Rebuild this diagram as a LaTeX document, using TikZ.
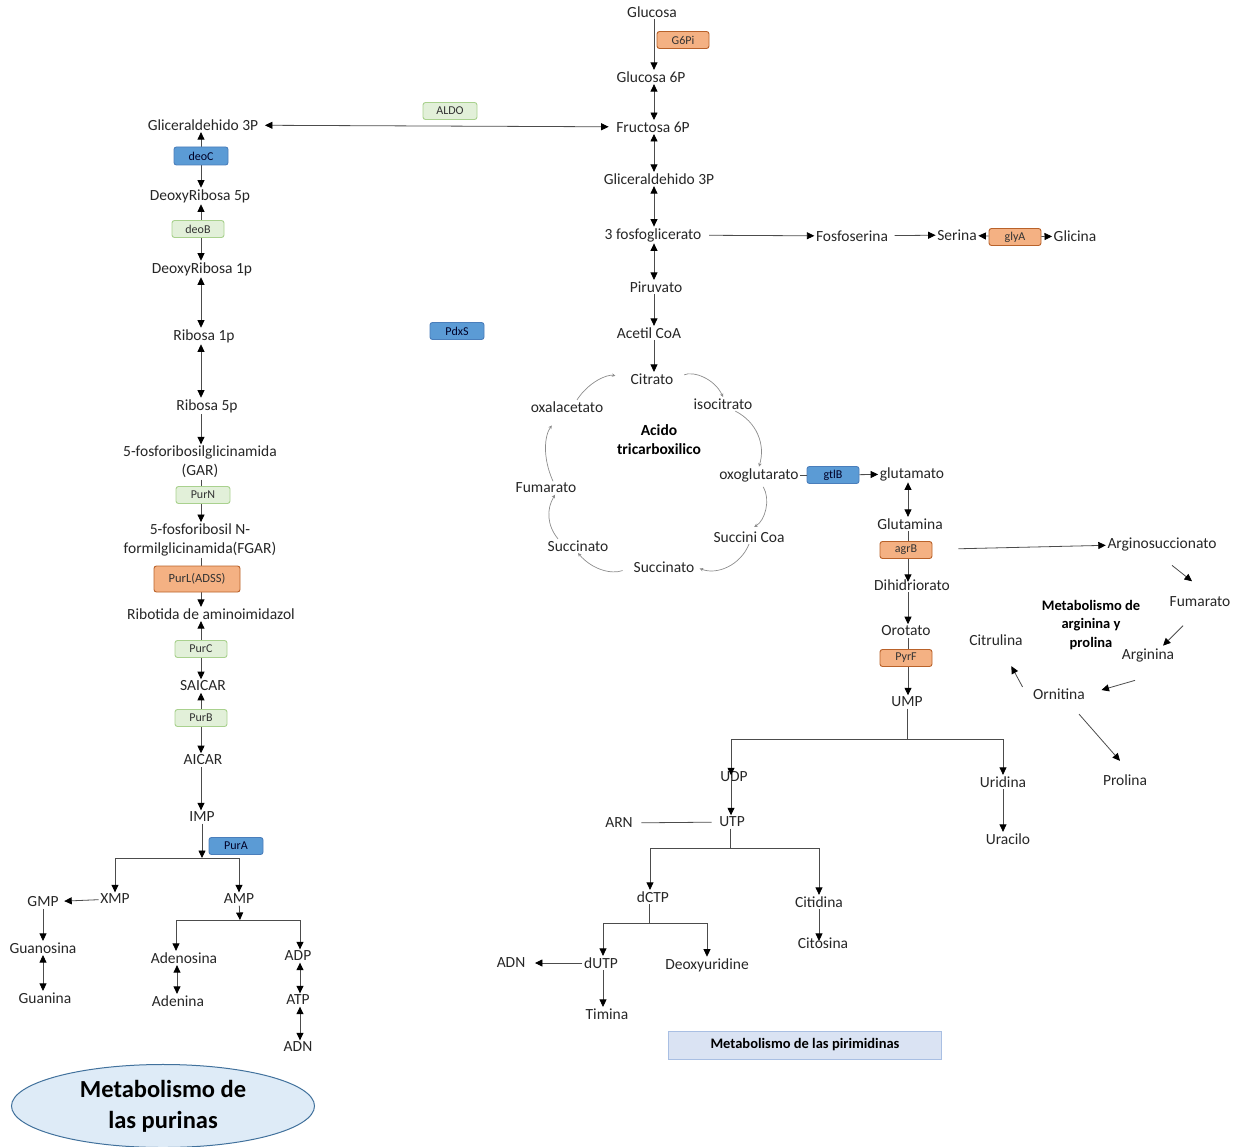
\documentclass[tikz,border=0pt]{standalone}
\usepackage{fontspec}
\setmainfont{Carlito}
\usetikzlibrary{arrows.meta}
\usetikzlibrary{shapes.geometric}

\definecolor{enzOrange}{HTML}{F4B183}
\definecolor{enzOrangeLine}{HTML}{B9622A}
\definecolor{enzGreen}{HTML}{E2F0D9}
\definecolor{enzGreenLine}{HTML}{A9D18E}
\definecolor{enzBlue}{HTML}{5B9BD5}
\definecolor{enzBlueLine}{HTML}{4A7EBB}
\definecolor{titleBlue}{HTML}{DEEBF7}
\definecolor{titleLine}{HTML}{41719C}
\definecolor{boxBlue}{HTML}{DAE3F3}
\definecolor{boxLine}{HTML}{A9BFE3}

\begin{document}
\begin{tikzpicture}[x=1pt,y=-1pt,
  >={Triangle[length=7.5pt,width=7pt,color=black]},
  met/.style={font=\fontsize{15.5}{19}\selectfont,text=black!85,inner sep=1.5pt,align=center},
  enz/.style={draw,rounded corners=2.5pt,minimum width=52pt,minimum height=17pt,inner sep=0pt,font=\fontsize{12}{14}\selectfont,text=black!80,line width=0.9pt},
  enzor/.style={enz,fill=enzOrange,draw=enzOrangeLine},
  enzgr/.style={enz,fill=enzGreen,draw=enzGreenLine},
  enzbl/.style={enz,fill=enzBlue,draw=enzBlueLine,text=black!85!blue},
  ln/.style={line width=0.8pt,draw=black!70},
  arr/.style={ln,->},
  dbl/.style={ln,<->},
  cyc/.style={->,line width=0.7pt,draw=black!45,>={Stealth[length=3.5pt,width=3.5pt]}}]

  \useasboundingbox (0,0) rectangle (1247,1147);

  \coordinate (colG) at (654,0);
  \coordinate (colL) at (201,0);
  \coordinate (colP) at (908,0);
  \coordinate (colU) at (731,0);

  \node[met] (glucosa) at (652,12) {Glucosa};
  \node[met] (gluc6p) at (651,77) {Glucosa 6P};
  \node[met] (fru6p) at (653,127) {Fructosa 6P};
  \node[met] (gliR) at (659,179) {Gliceraldehido 3P};
  \node[met] (fosfoglic) at (653,235) {3 fosfoglicerato};
  \node[met] (fosfoserina) at (852,236) {Fosfoserina};
  \node[met] (serina) at (957,235) {Serina};
  \node[met] (glicina) at (1075,236) {Glicina};
  \node[met] (piruvato) at (656,287) {Piruvato};
  \node[met] (acetil) at (649,333) {Acetil CoA};

  \node[met] (citrato) at (652,379) {Citrato};
  \node[met] (isocitrato) at (723,404) {isocitrato};
  \node[met] (oxoglut) at (759,475) {oxoglutarato};
  \node[met] (succinicoa) at (749,537) {Succini Coa};
  \node[met] (succinatoB) at (664,567) {Succinato};
  \node[met] (succinatoL) at (578,546) {Succinato};
  \node[met] (fumaratoL) at (546,488) {Fumarato};
  \node[met] (oxalacetato) at (567,407) {oxalacetato};
  \node[font=\bfseries\fontsize{15.5}{19}\selectfont,align=center] (acido) at (659,440) {Acido\\tricarboxilico};

  \node[met] (glutamato) at (912,474) {glutamato};
  \node[met] (glutamina) at (910,524) {Glutamina};
  \node[met] (dihidro) at (912,585) {Dihidriorato};
  \node[met] (orotato) at (906,631) {Orotato};
  \node[met] (ump) at (907,702) {UMP};

  \node[met] (argsucc) at (1162,544) {Arginosuccionato};
  \node[met] (fumaratoR) at (1200,602) {Fumarato};
  \node[met] (arginina) at (1148,655) {Arginina};
  \node[met] (ornitina) at (1059,694) {Ornitina};
  \node[met] (citrulina) at (996,640) {Citrulina};
  \node[met] (prolina) at (1125,780) {Prolina};
  \node[font=\bfseries\fontsize{14.5}{18.5}\selectfont,align=center] (argtitle) at (1091,625) {Metabolismo de\\arginina y\\prolina};

  \node[met] (udp) at (734,777) {UDP};
  \node[met] (utp) at (732,822) {UTP};
  \node[met] (arn) at (619,823) {ARN};
  \node[met] (uridina) at (1003,782) {Uridina};
  \node[met] (uracilo) at (1008,839) {Uracilo};
  \node[met] (dctp) at (653,897) {dCTP};
  \node[met] (citidina) at (819,902) {Citidina};
  \node[met] (citosina) at (823,943) {Citosina};
  \node[met] (dutp) at (601,963) {dUTP};
  \node[met] (deoxyur) at (707,965) {Deoxyuridine};
  \node[met] (adnP) at (511,963) {ADN};
  \node[met] (timina) at (607,1014) {Timina};

  \node[met] (gliL) at (203,125) {Gliceraldehido 3P};
  \node[met] (dr5p) at (200,196) {DeoxyRibosa 5p};
  \node[met] (dr1p) at (202,269) {DeoxyRibosa 1p};
  \node[met] (rib1p) at (204,336) {Ribosa 1p};
  \node[met] (rib5p) at (207,406) {Ribosa 5p};
  \node[met] (gar) at (200,462) {5-fosforibosilglicinamida\\(GAR)};
  \node[met] (fgar) at (200,540) {5-fosforibosil N-\\formilglicinamida(FGAR)};
  \node[met] (ribotida) at (211,614) {Ribotida de aminoimidazol};
  \node[met] (saicar) at (203,686) {SAICAR};
  \node[met] (aicar) at (203,760) {AICAR};
  \node[met] (imp) at (202,817) {IMP};
  \node[met] (xmp) at (115,899) {XMP};
  \node[met] (amp) at (239,899) {AMP};
  \node[met] (gmp) at (43,902) {GMP};
  \node[met] (guanosina) at (43,948) {Guanosina};
  \node[met] (guanina) at (45,998) {Guanina};
  \node[met] (adenosina) at (184,958) {Adenosina};
  \node[met] (adenina) at (178,1001) {Adenina};
  \node[met] (adp) at (298,956) {ADP};
  \node[met] (atp) at (298,1000) {ATP};
  \node[met] (adnL) at (298,1047) {ADN};

  \draw[arr] (colG |- glucosa.south) -- (colG |- gluc6p.north);
  \draw[dbl] (colG |- gluc6p.south) -- (colG |- fru6p.north);
  \draw[dbl] (colG |- fru6p.south) -- (colG |- gliR.north);
  \draw[dbl] (colG |- gliR.south) -- (colG |- fosfoglic.north);
  \draw[dbl] (colG |- fosfoglic.south) -- (colG |- piruvato.north);
  \draw[arr] (colG |- piruvato.south) -- (colG |- acetil.north);
  \draw[arr] (colG |- acetil.south) -- (colG |- citrato.north);
  \draw[arr,shorten <=6pt] (fosfoglic) -- (fosfoserina);
  \draw[arr,shorten <=5pt] (fosfoserina) -- (serina);
  \draw[dbl,shorten <=5pt,shorten >=6pt] (gliL) -- (fru6p);

  \draw[cyc,shorten <=10pt] (citrato.east) to[bend left=45] (isocitrato.north);
  \draw[cyc] (isocitrato.-30) to[bend left=40] (oxoglut.north);
  \draw[cyc,shorten <=4pt,shorten >=6pt] (oxoglut.-75) to[bend left=45] (succinicoa.north);
  \draw[cyc,shorten >=4pt] (succinicoa.south) to[bend left=45] (succinatoB.east);
  \draw[cyc,shorten <=10pt] (succinatoB.west) to[bend left=35] (succinatoL.south);
  \draw[cyc] ([xshift=-20pt]succinatoL.north) to[bend left=35] ([xshift=9pt]fumaratoL.south);
  \draw[cyc,shorten >=14pt] ([xshift=7pt]fumaratoL.north) to[bend left=30] ([xshift=-7pt]oxalacetato.south);
  \draw[cyc,shorten >=14pt] ([xshift=10pt]oxalacetato.north) to[bend left=35] (citrato.west);

  \draw[dbl] (colP |- glutamato.south) -- (colP |- glutamina.north);
  \draw[arr,shorten >=-4pt] (colP |- glutamina.south) -- (colP |- dihidro.north);
  \draw[arr] (colP |- dihidro.south) -- (colP |- orotato.north);
  \draw[arr] (colP |- orotato.south) -- (colP |- ump.north);

  \coordinate (umpsplit) at (907,739);
  \draw[ln] (ump) -- (umpsplit);
  \draw[arr,shorten >=-5pt] (umpsplit) -| (colU |- udp.north);
  \draw[arr] (umpsplit) -| (uridina);
  \draw[arr,shorten <=-6pt] (colU |- udp.south) -- (colU |- utp.north);
  \draw[ln,shorten <=7pt,shorten >=6pt] (arn) -- (utp);
  \draw[arr] (uridina) -- (uridina |- uracilo.north);
  \coordinate (utpsplit) at (730,848);
  \draw[ln] (utpsplit |- utp.south) -- (utpsplit);
  \draw[arr] (utpsplit) -| ([xshift=-3pt]dctp.north);
  \draw[arr] (utpsplit) -| (citidina);
  \draw[arr,shorten >=-5pt] (citidina) -- (citidina |- citosina.north);
  \coordinate (dctpsplit) at (649,923);
  \draw[ln] (dctpsplit |- dctp.south) -- (dctpsplit);
  \draw[arr] (dctpsplit) -| ([xshift=2pt]dutp.north);
  \draw[arr] (dctpsplit) -| (deoxyur);
  \draw[arr,shorten >=8pt] (dutp) -- (adnP);
  \draw[arr] ([xshift=2pt]dutp.south) -- ([xshift=2pt]dutp.south |- timina.north);

  \draw[arr] ([xshift=10pt,yshift=-13pt]argsucc.south) -- ([xshift=-8pt,yshift=14pt]fumaratoR.north);
  \draw[arr] ([xshift=-17pt,yshift=-17pt]fumaratoR.south) -- ([xshift=15pt,yshift=1pt]arginina.north);
  \draw[arr] ([xshift=-13pt,yshift=-17pt]arginina.south) -- ([xshift=15pt,yshift=4pt]ornitina.east);
  \draw[arr] ([xshift=-9pt]ornitina.north west) -- ([xshift=-13pt,yshift=-19pt]citrulina.south east);
  \draw[arr] ([xshift=20pt,yshift=-13pt]ornitina.south) -- ([xshift=-5pt,yshift=12pt]prolina.north);

  \draw[dbl] (colL |- gliL.south) -- (colL |- dr5p.north);
  \draw[dbl] (colL |- dr5p.south) -- (colL |- dr1p.north);
  \draw[dbl] (colL |- dr1p.south) -- (colL |- rib1p.north);
  \draw[dbl] (colL |- rib1p.south) -- (colL |- rib5p.north);
  \draw[arr] (colL |- rib5p.south) -- (colL |- gar.north);
  \draw[arr] (colL |- gar.south) -- (colL |- fgar.north);
  \draw[arr] (colL |- fgar.south) -- (colL |- ribotida.north);
  \draw[dbl] (colL |- ribotida.south) -- (colL |- saicar.north);
  \draw[dbl] (colL |- saicar.south) -- (colL |- aicar.north);
  \draw[arr] (colL |- aicar.south) -- (colL |- imp.north);
  \coordinate (impsplit) at (202,858);
  \draw[arr] (imp) -- (impsplit);
  \draw[arr] (impsplit) -| (xmp);
  \draw[arr] (impsplit) -| (amp);
  \draw[arr,shorten >=4pt] (xmp) -- (gmp);
  \draw[arr] (gmp) -- (guanosina);
  \draw[dbl] (guanosina) -- (guanosina |- guanina.north);
  \coordinate (ampsplit) at (240,920);
  \draw[arr] (amp) -- (ampsplit);
  \draw[arr] (ampsplit) -| ([xshift=-8pt]adenosina.north);
  \draw[arr] (ampsplit) -| ([xshift=2pt]adp.north);
  \draw[dbl] ([xshift=-7pt]adenosina.south) -- ([xshift=-7pt]adenosina.south |- adenina.north);
  \draw[dbl] ([xshift=2pt]adp.south) -- ([xshift=2pt]adp.south |- atp.north);
  \draw[dbl] ([xshift=2pt]atp.south) -- ([xshift=2pt]atp.south |- adnL.north);

  \node[enzor] (g6pi) at (683,40) {G6Pi};
  \node[enzgr,minimum width=54pt] (aldo) at (450,111) {ALDO};
  \node[enzor] (glyA) at (1015,237) {glyA};
  \draw[arr] (glyA) -- (serina);
  \draw[arr] (glyA) -- (glicina);
  \node[enzbl] (gtlB) at (833,475) {gtlB};
  \draw[ln] (oxoglut) -- (gtlB);
  \draw[arr] (gtlB) -- (glutamato);
  \node[enzor] (agrB) at (906,550) {agrB};
  \draw[arr,shorten <=26pt] (agrB) -- (argsucc);
  \node[enzor] (pyrF) at (906,658) {PyrF};
  \node[enzbl,minimum width=54pt] (pdxS) at (457,331) {PdxS};

  \node[enzbl,minimum width=54pt,minimum height=18pt] (deoC) at (201,156) {deoC};
  \node[enzgr] (deoB) at (198,229) {deoB};
  \node[enzgr,minimum width=54pt] (purN) at (203,495) {PurN};
  \node[enzor,minimum width=86pt,minimum height=26pt,font=\fontsize{12.5}{14}\selectfont] (purL) at (197,579) {PurL(ADSS)};
  \node[enzgr] (purC) at (201,649) {PurC};
  \node[enzgr] (purB) at (201,718) {PurB};
  \node[enzbl,minimum width=54pt] (purA) at (236,846) {PurA};

  \node[draw=titleLine,fill=titleBlue,ellipse,minimum width=303pt,minimum height=82pt,line width=1pt,font=\bfseries\fontsize{24.5}{31}\selectfont,align=center] (purinas) at (163,1106) {Metabolismo de\\las purinas};
  \node[draw=boxLine,fill=boxBlue,minimum width=273pt,minimum height=28pt,line width=1pt,font=\bfseries\fontsize{14.5}{17}\selectfont] (pirimidinas) at (805,1045) {Metabolismo de las pirimidinas};
\end{tikzpicture}
\end{document}
